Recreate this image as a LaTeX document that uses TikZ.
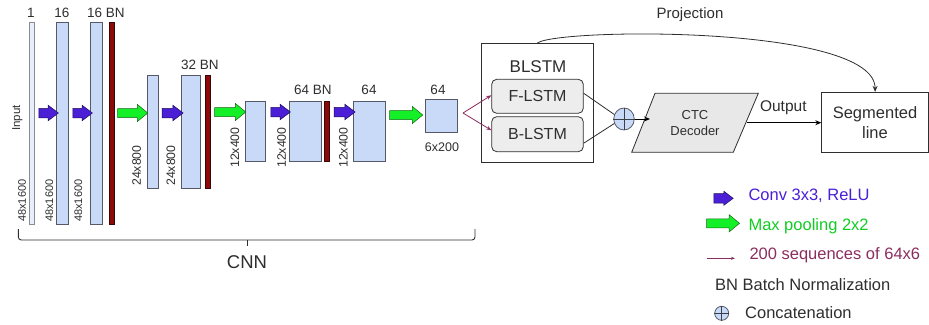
\documentclass[tikz,border=0pt]{standalone}
\usepackage{fontspec}
\setmainfont{Liberation Sans}
\usetikzlibrary{shapes.arrows,shapes.geometric,arrows.meta,calc}
\definecolor{barfill}{HTML}{C9DAF8}
\definecolor{barline}{HTML}{555A66}
\definecolor{bnfill}{HTML}{8B0A0A}
\definecolor{bnline}{HTML}{3A0505}
\definecolor{convfill}{RGB}{74,31,214}
\definecolor{convline}{RGB}{30,15,90}
\definecolor{poolfill}{RGB}{20,240,40}
\definecolor{poolline}{RGB}{20,100,20}
\definecolor{seqcol}{RGB}{140,45,95}
\definecolor{txt}{HTML}{2E2E2E}
\definecolor{lstmfill}{HTML}{EDEDED}
\definecolor{ctcfill}{HTML}{E8E8E8}
\newcommand{\fs}[1]{\fontsize{#1}{#1}\selectfont}
\begin{document}
\begin{tikzpicture}[x=1pt,y=-1pt,
  bar/.style={draw=barline,fill=barfill,line width=0.8pt,inner sep=0pt,minimum width=#1},
  inbar/.style={draw=barline!70,fill=barfill!45,line width=0.8pt,inner sep=0pt,minimum width=5pt},
  bnbar/.style={draw=bnline,fill=bnfill,line width=0.6pt,inner sep=0pt,minimum width=#1},
  convarrow/.style={shape=single arrow,draw=convline,fill=convfill,line width=0.5pt,
    inner xsep=0pt,inner ysep=4.5pt,single arrow head extend=3pt,
    single arrow tip angle=74,minimum height=#1},
  poolarrow/.style={shape=single arrow,draw=poolline,fill=poolfill,line width=0.5pt,
    inner xsep=0pt,inner ysep=4.25pt,single arrow head extend=4pt,
    single arrow tip angle=79,minimum height=#1},
  lab/.style={text=txt,inner sep=0pt,font=\fs{13.5}},
  dimlab/.style={text=txt,inner sep=0pt,rotate=90,anchor=west,font=\fs{#1}},
  lstm/.style={draw=txt,fill=lstmfill,line width=0.8pt,rounded corners=5pt,
    minimum width=91.6pt,minimum height=34pt,inner sep=0pt,text=txt,font=\fs{16}},
  cat/.style={draw=barline,fill=barfill,line width=0.8pt,ellipse,inner sep=0pt,
    minimum width=#1},
  seq/.style={draw=seqcol,line width=0.8pt,-{Stealth[length=5pt,width=4pt]}},
  blk/.style={draw=txt,line width=0.8pt},
  blkarrow/.style={draw=black,line width=0.8pt,-{Stealth[length=6pt,width=5pt]}},
  leg/.style={anchor=west,inner sep=0pt,font=\fs{16.5}}
]
\useasboundingbox (0,0) rectangle (929,324);

% ---------------- CNN layers ----------------
\node[inbar,minimum height=202pt] (in) at (31.5,123) {};
\node[bar=12pt,minimum height=202pt] (c1) at (62,123) {};
\node[bar=12pt,minimum height=202pt] (c2) at (96,123) {};
\node[bnbar=5pt,minimum height=202pt] (bn1) at (111.5,123) {};
\node[bar=11pt,minimum height=113pt] (c3) at (152.5,131.5) {};
\node[bar=19pt,minimum height=113pt] (c4) at (190.5,131.5) {};
\node[bnbar=5.5pt,minimum height=113pt] (bn2) at (207.7,131.5) {};
\node[bar=19.5pt,minimum height=60pt] (c5) at (255.5,131) {};
\node[bar=32pt,minimum height=60pt] (c6) at (305,131) {};
\node[bnbar=5pt,minimum height=60pt] (bn3) at (326.5,131) {};
\node[bar=32pt,minimum height=60pt] (c7) at (369,131) {};
\node[bar=32.5pt,minimum height=32.7pt] (c8) at (441.5,115.7) {};

% block arrows
\node[convarrow=19.5pt] (a1) at (45.5,113) {};
\node[convarrow=19.5pt] (a2) at (79.5,113) {};
\node[poolarrow=30pt] (g1) at (130,113) {};
\node[convarrow=21pt] (a3) at (169.5,113) {};
\node[poolarrow=31pt] (g2) at (227.5,112) {};
\node[convarrow=19.5pt] (a4) at (277.5,112) {};
\node[convarrow=21pt] (a5) at (341.5,112) {};
\node[poolarrow=33pt] (g3) at (403.5,115) {};

% top labels
\node[lab] (l1) at (31,13) {1};
\node[lab] (l2) at (62,13) {16};
\node[lab] (l3) at (106,13) {16 BN};
\node[lab] (l4) at (200,65) {32 BN};
\node[lab] (l5) at (313,90) {64 BN};
\node[lab] (l6) at (369,90) {64};
\node[lab] (l7) at (438,90) {64};
\node[lab,font=\fs{12.5}] (l8) at (442,147) {6x200};

% rotated labels
\node[dimlab=11.5] (tin) at (17.3,131) {Input};
\node[dimlab=11] (d1) at (22,222) {48x1600};
\node[dimlab=11] (d2) at (49.3,222) {48x1600};
\node[dimlab=11] (d3) at (78.3,222) {48x1600};
\node[dimlab=12.3] (d4) at (136.7,186) {24x800};
\node[dimlab=12.3] (d5) at (171,186) {24x800};
\node[dimlab=12.3] (d6) at (235,168) {12x400};
\node[dimlab=12.3] (d7) at (281.7,168) {12x400};
\node[dimlab=12.3] (d8) at (343.3,168) {12x400};

% brace
\coordinate (brL) at (18.3,229);
\coordinate (brM) at (247,240);
\coordinate (brR) at (475,229);
\draw[blk,line width=0.9pt,rounded corners=3pt] (brL) |- (brM) -| (brR);
\draw[blk,line width=0.9pt] (brM) -- ++(0,6);
\node[text=txt,inner sep=0pt,font=\fs{18.5}] (cnn) at (247,262) {CNN};

% ---------------- BLSTM ----------------
\node[blk,minimum width=111.6pt,minimum height=119pt,inner sep=0pt] (bbox) at (537.5,102.8) {};
\node[text=txt,inner sep=0pt,font=\fs{17}] (btitle) at (538,66.7) {BLSTM};
\node[lstm] (fl) at (537.5,96.3) {F-LSTM};
\node[lstm,minimum height=35pt] (bl) at (537.5,134.2) {B-LSTM};

\coordinate (split) at (463,113);
\draw[seq] (split) -- ($(fl.west)+(0,-1)$);
\draw[seq] (split) -- ($(bl.west)+(0,-4)$);

% concatenation
\node[cat=20.5pt,minimum height=22pt] (cat) at (624,119) {};
\draw[barline!70!black,line width=0.8pt] (cat.north) -- (cat.south) (cat.west) -- (cat.east);
\draw[blk] ($(fl.east)+(0,-3)$) -- (cat.155);
\draw[blk] ($(bl.east)+(0,9)$) -- (cat.205);

% CTC decoder
\coordinate (p1) at (655,93.3);
\coordinate (p2) at (758.3,93.3);
\coordinate (p3) at (733.3,152.3);
\coordinate (p4) at (631.7,152.3);
\draw[blk,fill=ctcfill] (p1) -- (p2) -- (p3) -- (p4) -- cycle;
\coordinate (ctcL) at (650,119);
\coordinate (ctcR) at (746.5,122.7);
\node[text=txt,inner sep=0pt,align=center,font=\fs{13}] (ctc) at (695,123) {CTC\\[3pt]Decoder};
\draw[blkarrow] (cat.east) -- (ctcL);

% segmented line
\node[blk,minimum width=106.8pt,minimum height=60pt,inner sep=0pt] (seg) at (875.1,122.3) {};
\node[text=txt,inner sep=0pt,align=center,font=\fontsize{16.5}{20}\selectfont] (segt) at (875,123) {Segmented\\line};
\draw[blkarrow] (ctcR) -- (seg.west |- ctcR);
\node[text=txt,inner sep=0pt,font=\fs{15.5}] (out) at (783.3,108) {Output};

% projection
\draw[blk,line width=0.8pt,-{Stealth[length=6pt,width=5pt]}] (bbox.north) .. controls (560,28) and (875,25) .. (seg.north);
\node[text=txt,inner sep=0pt,font=\fs{15}] (proj) at (690,15) {Projection};

% ---------------- Legend ----------------
\node[convarrow=19.3pt,single arrow head extend=2.3pt] (la1) at (720.4,198.3) {};
\node[leg,text=convfill] (lt1) at (748.3,195.5) {Conv 3x3, ReLU};
\node[poolarrow=33pt] (la2) at (720.3,223.3) {};
\node[leg,text=poolfill!85!black] (lt2) at (748.3,226.5) {Max pooling 2x2};
\coordinate (la3s) at (706.7,258.3);
\coordinate (la3e) at (735,258.3);
\draw[seqcol,line width=0.8pt,-{Stealth[length=4pt,width=3pt]}] (la3s) -- (la3e);
\node[leg,text=seqcol] (lt3) at (749.3,255.5) {200 sequences of 64x6};
\node[leg,text=txt] (lt4) at (715,285) {BN Batch Normalization};
\node[cat=14pt,minimum height=14pt] (lcat) at (721.7,313.3) {};
\draw[barline!70!black,line width=0.8pt] (lcat.north) -- (lcat.south) (lcat.west) -- (lcat.east);
\node[leg,text=txt] (lt5) at (745,313) {Concatenation};
\end{tikzpicture}
\end{document}
